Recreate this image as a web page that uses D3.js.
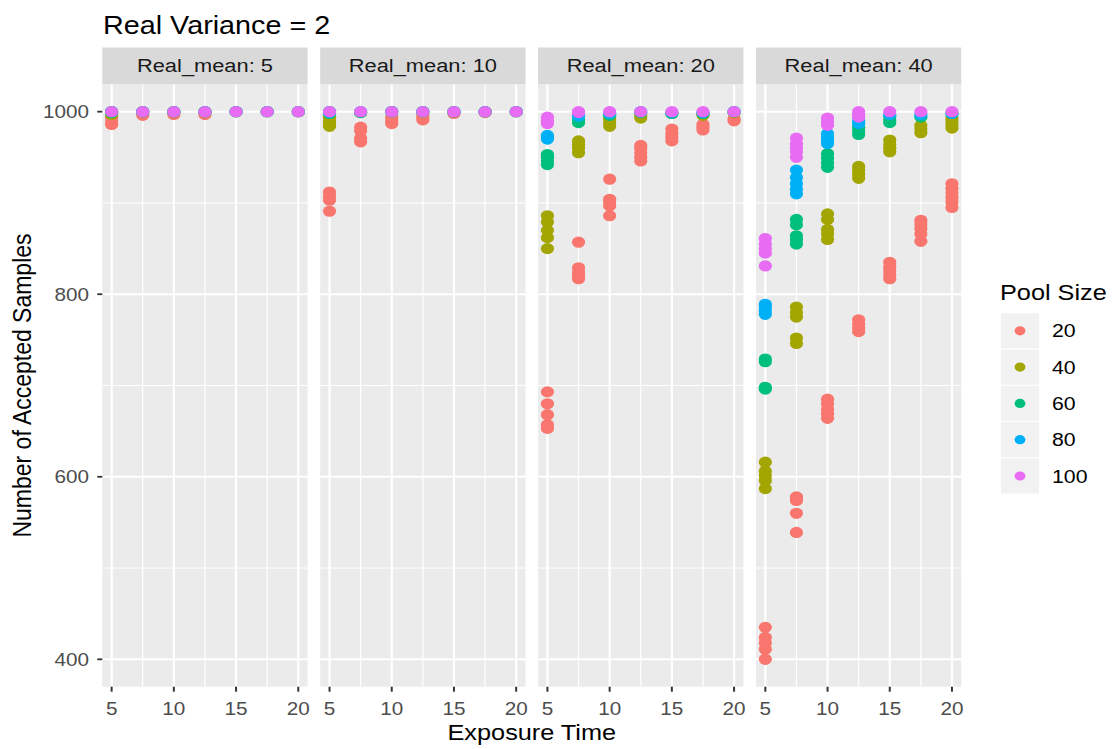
<!DOCTYPE html>
<html>
<head>
<meta charset="utf-8">
<script src="https://cdn.jsdelivr.net/npm/d3@7"></script>
<style>
  html, body { margin: 0; padding: 0; background: #ffffff; }
  svg { display: block; }
  text { font-family: "Liberation Sans", Arial, sans-serif; }
</style>
</head>
<body>
<script>
// ---- data -------------------------------------------------------------
const exposureTimes = [5, 7.5, 10, 12.5, 15, 17.5, 20];
const poolSizes = [20, 40, 60, 80, 100];
const poolColors = ["#F8766D", "#A3A500", "#00BF7D", "#00B0F6", "#E76BF3"];
const realMeans = [5, 10, 20, 40];
const xTickValues = [5, 10, 15, 20];
const xMinorValues = [7.5, 12.5, 17.5];
const yTickValues = [400, 600, 800, 1000];
const yMinorValues = [500, 700, 900];

// accepted samples per run: rows = pool size, columns = exposure time
const acceptedMean5 = [
  [[986, 989, 993, 997], [996, 998], [997, 999], [997, 999], [1000], [1000], [1000]],
  [[997, 999, 1000], [1000], [1000], [1000], [1000], [1000], [1000]],
  [[999, 1000], [1000], [1000], [1000], [1000], [1000], [1000]],
  [[1000], [1000], [1000], [1000], [1000], [1000], [1000]],
  [[1000], [1000], [1000], [1000], [1000], [1000], [1000]]
];
const acceptedMean10 = [
  [[891, 903, 907, 912], [967, 971, 979, 983], [987, 990, 994], [991, 994, 997], [998], [999], [1000]],
  [[984, 987, 990, 994], [999], [1000], [1000], [1000], [1000], [1000]],
  [[998, 1000], [999], [1000], [1000], [1000], [1000], [1000]],
  [[999, 1000], [1000], [1000], [1000], [1000], [1000], [1000]],
  [[1000], [1000], [1000], [1000], [1000], [1000], [1000]]
];
const acceptedMean20 = [
  [[653, 657, 668, 680, 693], [817, 820, 824, 829, 857], [886, 897, 901, 904, 926], [946, 950, 955, 960, 963], [968, 972, 976, 981], [980, 983, 986], [990, 992]],
  [[850, 862, 870, 879, 886], [955, 960, 964, 968], [984, 988, 992, 995], [993, 996], [998], [996], [999]],
  [[942, 946, 950, 953], [988, 991], [996, 998], [999], [998], [998], [1000]],
  [[970, 972, 974], [995, 997], [998], [1000], [999], [999], [1000]],
  [[987, 990, 994], [999, 1000], [1000], [1000], [1000], [1000], [1000]]
];
const acceptedMean40 = [
  [[400, 411, 418, 424, 435], [539, 560, 574, 577, 578], [664, 669, 674, 680, 685], [759, 763, 767, 772], [817, 821, 826, 830, 835], [858, 866, 872, 877, 881], [895, 901, 906, 911, 916, 921]],
  [[587, 596, 601, 606, 616], [746, 752, 775, 780, 786], [860, 866, 871, 882, 888], [927, 932, 936, 940], [956, 960, 964, 969], [977, 981, 985], [982, 986, 990, 993]],
  [[696, 698, 726, 729], [855, 860, 864, 876, 882], [939, 944, 949, 954], [975, 979, 983], [988, 991, 995], [994], [998]],
  [[778, 782, 786, 789], [910, 915, 921, 928, 936], [965, 968, 972, 976], [987, 990], [997], [997], [998]],
  [[831, 845, 850, 855, 861], [950, 956, 960, 965, 971], [985, 989, 993], [994, 997, 1000], [1000], [1000], [1000]]
];
const acceptedByMean = [acceptedMean5, acceptedMean10, acceptedMean20, acceptedMean40];

// ---- layout -----------------------------------------------------------
const W = 1119, H = 749;
const SX = 1.15;                 // horizontal glyph stretch of the output
const plotLeft = 102.3, panelW = 205.3, panelGap = 12.6;
const panelTop = 84.3, panelBottom = 686.7;
const stripTop = 47.5;

const svg = d3.select("body").append("svg")
  .attr("width", W).attr("height", H);

const x = d3.scaleLinear().domain([4.25, 20.75]).range([0, panelW]);
const y = d3.scaleLinear().domain([370, 1030]).range([panelBottom, panelTop]);
const color = d3.scaleOrdinal().domain(poolSizes).range(poolColors);

function placeText(sel, px, py, extra) {
  return sel.attr("transform", `translate(${px},${py}) scale(${SX},1)` + (extra || ""));
}

// title
placeText(svg.append("text"), 103, 34)
  .attr("font-size", 25).attr("fill", "#000").text("Real Variance = 2");

realMeans.forEach((m, i) => {
  const left = plotLeft + i * (panelW + panelGap);
  const g = svg.append("g").attr("transform", `translate(${left},0)`);

  // panel background
  g.append("rect").attr("x", 0).attr("y", panelTop)
    .attr("width", panelW).attr("height", panelBottom - panelTop)
    .attr("fill", "#EBEBEB");

  // minor grid
  g.selectAll(".ymin").data(yMinorValues).join("line")
    .attr("x1", 0).attr("x2", panelW)
    .attr("y1", d => y(d)).attr("y2", d => y(d))
    .attr("stroke", "#fff").attr("stroke-width", 1);
  g.selectAll(".xmin").data(xMinorValues).join("line")
    .attr("x1", d => x(d)).attr("x2", d => x(d))
    .attr("y1", panelTop).attr("y2", panelBottom)
    .attr("stroke", "#fff").attr("stroke-width", 1.2);
  // major grid
  g.selectAll(".ymaj").data(yTickValues).join("line")
    .attr("x1", 0).attr("x2", panelW)
    .attr("y1", d => y(d)).attr("y2", d => y(d))
    .attr("stroke", "#fff").attr("stroke-width", 2);
  g.selectAll(".xmaj").data(xTickValues).join("line")
    .attr("x1", d => x(d)).attr("x2", d => x(d))
    .attr("y1", panelTop).attr("y2", panelBottom)
    .attr("stroke", "#fff").attr("stroke-width", 2.3);

  // strip
  g.append("rect").attr("x", 0).attr("y", stripTop)
    .attr("width", panelW).attr("height", panelTop - stripTop)
    .attr("fill", "#D9D9D9");
  placeText(g.append("text"), panelW / 2, (stripTop + panelTop) / 2 + 6.5)
    .attr("text-anchor", "middle").attr("font-size", 19)
    .attr("fill", "#1A1A1A").text(`Real_mean: ${m}`);

  // points
  const pts = [];
  acceptedByMean[i].forEach((row, pi) => {
    row.forEach((runs, ti) => {
      runs.forEach(v => pts.push({ pool: poolSizes[pi], t: exposureTimes[ti], v }));
    });
  });
  g.selectAll(".pt").data(pts).join("ellipse")
    .attr("cx", d => x(d.t)).attr("cy", d => y(d.v))
    .attr("rx", 6.6).attr("ry", 5.6)
    .attr("fill", d => color(d.pool));

  // x axis ticks and labels
  g.selectAll(".xt").data(xTickValues).join("line")
    .attr("x1", d => x(d)).attr("x2", d => x(d))
    .attr("y1", panelBottom).attr("y2", panelBottom + 5)
    .attr("stroke", "#333").attr("stroke-width", 2);
  g.selectAll(".xl").data(xTickValues).join("text")
    .each(function (d) { placeText(d3.select(this), x(d), 715); })
    .attr("text-anchor", "middle").attr("font-size", 18)
    .attr("fill", "#4D4D4D").text(d => d);
});

// y axis ticks and labels
svg.selectAll(".yt").data(yTickValues).join("line")
  .attr("x1", plotLeft - 5).attr("x2", plotLeft)
  .attr("y1", d => y(d)).attr("y2", d => y(d))
  .attr("stroke", "#333").attr("stroke-width", 1.8);
svg.selectAll(".yl").data(yTickValues).join("text")
  .each(function (d) { placeText(d3.select(this), 89, y(d) + 6.3); })
  .attr("text-anchor", "end").attr("font-size", 18)
  .attr("fill", "#4D4D4D").text(d => d);

// axis titles
const plotRight = plotLeft + realMeans.length * panelW + (realMeans.length - 1) * panelGap;
placeText(svg.append("text"), (plotLeft + plotRight) / 2, 740)
  .attr("text-anchor", "middle").attr("font-size", 22)
  .attr("fill", "#000").text("Exposure Time");
placeText(svg.append("text"), 31, (panelTop + panelBottom) / 2, " rotate(-90)")
  .attr("text-anchor", "middle").attr("font-size", 23)
  .attr("fill", "#000").text("Number of Accepted Samples");

// legend
const legend = svg.append("g");
placeText(legend.append("text"), 1000, 300)
  .attr("font-size", 22).attr("fill", "#000").text("Pool Size");
const keyTop = 313.3, keyPitch = 36.3, keyH = 35, keyW = 38;
const keys = legend.selectAll(".key").data(poolSizes).join("g")
  .attr("transform", (d, k) => `translate(1001,${keyTop + k * keyPitch})`);
keys.append("rect").attr("width", keyW).attr("height", keyH).attr("fill", "#F2F2F2");
keys.append("ellipse").attr("cx", keyW / 2).attr("cy", keyH / 2)
  .attr("rx", 5.4).attr("ry", 4.6).attr("fill", d => color(d));
keys.append("text")
  .each(function () { placeText(d3.select(this), 51, keyH / 2 + 6.5); })
  .attr("font-size", 18.5).attr("fill", "#000").text(d => d);
</script>
</body>
</html>
